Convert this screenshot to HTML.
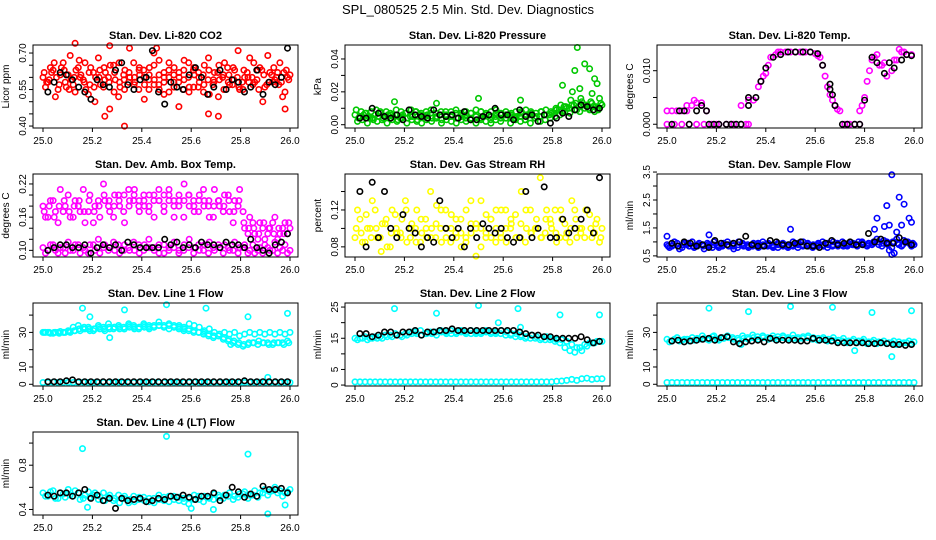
<!DOCTYPE html>
<html><head><meta charset="utf-8">
<style>
html,body{margin:0;padding:0;background:#fff;}
svg{display:block;font-family:"Liberation Sans",Arial,sans-serif;}
</style></head>
<body>
<svg id="chart" width="936" height="540" viewBox="0 0 936 540">
<text x="468" y="14" text-anchor="middle" font-size="13">SPL_080525  2.5 Min. Std. Dev. Diagnostics</text>
</svg>
<script>
// ---------- data ----------
const co2Red1=[0.60,0.58,0.63,0.55,0.66,0.61,0.57,0.64,0.59,0.53,0.62,0.68,0.56,0.60,0.65,0.52,0.61,0.58,0.66,0.55,0.63,0.59,0.70,0.57,0.62,0.54,0.64,0.60,0.67,0.56,0.61,0.58,0.65,0.53,0.62,0.59,0.66,0.57,0.63,0.55,0.60,0.68,0.58,0.64,0.56,0.62,0.59,0.66,0.54,0.61];
const co2Red2=[0.56,0.64,0.52,0.61,0.58,0.69,0.54,0.60,0.66,0.57,0.50,0.63,0.59,0.47,0.62,0.58,0.55,0.72,0.60,0.64,0.51,0.61,0.57,0.67,0.53,0.60,0.58,0.48,0.63,0.66,0.56,0.62,0.54,0.68,0.59,0.52,0.61,0.58,0.64,0.71,0.55,0.60,0.57,0.63,0.50,0.69,0.58,0.62,0.52,0.60];
const co2Red3=[0.62,0.59,0.66,0.57,0.63,0.55,0.60,0.67,0.58,0.62,0.56,0.60,0.64,0.58,0.54,0.66,0.59,0.62,0.57,0.63,0.60,0.55,0.65,0.61,0.58,0.66,0.56,0.62,0.59,0.54,0.64,0.60,0.57,0.63,0.58,0.65,0.55,0.61,0.59,0.56,0.63,0.58,0.66,0.55,0.61,0.58,0.64,0.57,0.62,0.59];
const co2Red4=[0.58,0.62,0.60,0.64,0.56,0.59,0.63,0.61,0.55,0.64,0.60,0.57,0.62,0.65,0.59,0.56,0.63,0.60,0.58,0.61,0.57,0.64,0.59,0.55,0.60,0.63,0.61,0.58,0.55,0.60,0.63,0.56,0.61,0.59,0.57,0.62,0.60,0.64,0.57,0.60,0.58,0.62,0.60,0.59,0.63,0.57,0.61,0.60,0.58,0.63];
const co2OutX=[25.13,25.27,25.33,25.25,25.46,25.67,25.71,25.98];
const co2OutY=[0.74,0.73,0.40,0.44,0.72,0.45,0.44,0.47];
const co2Black=[0.54,0.58,0.62,0.61,0.59,0.56,0.54,0.51,0.59,0.57,0.56,0.63,0.66,0.57,0.55,0.59,0.60,0.71,0.54,0.49,0.58,0.56,0.55,0.61,0.64,0.60,0.53,0.56,0.63,0.55,0.59,0.58,0.54,0.56,0.63,0.53,0.58,0.57,0.60,0.72];

const presG1=[0.006,0.005,0.007,0.004,0.006,0.008,0.005,0.007,0.006,0.004,0.007,0.005,0.008,0.006,0.005,0.007,0.004,0.006,0.008,0.005,0.007,0.006,0.004,0.007,0.005,0.008,0.006,0.005,0.007,0.006,0.004,0.007,0.005,0.008,0.006,0.007,0.005,0.008,0.006,0.007,0.009,0.008,0.010,0.012,0.009,0.014,0.011,0.013,0.010,0.012];
const presG2=[0.002,0.003,0.001,0.004,0.002,0.003,0.001,0.003,0.002,0.004,0.001,0.003,0.002,0.001,0.003,0.002,0.004,0.001,0.003,0.002,0.001,0.003,0.002,0.004,0.001,0.003,0.002,0.001,0.003,0.002,0.004,0.001,0.003,0.002,0.003,0.001,0.004,0.002,0.003,0.004,0.005,0.006,0.008,0.007,0.009,0.008,0.010,0.009,0.008,0.010];
const presG3=[0.009,0.008,0.007,0.008,0.009,0.007,0.008,0.006,0.009,0.008,0.007,0.009,0.008,0.007,0.008,0.009,0.007,0.008,0.006,0.008,0.009,0.007,0.008,0.007,0.009,0.008,0.007,0.008,0.009,0.007,0.008,0.006,0.008,0.007,0.009,0.008,0.007,0.008,0.009,0.008,0.010,0.012,0.011,0.015,0.013,0.016,0.012,0.014,0.011,0.013];
const presG4=[0.004,0.006,0.005,0.003,0.005,0.004,0.006,0.005,0.003,0.006,0.004,0.005,0.003,0.005,0.006,0.004,0.005,0.003,0.005,0.006,0.004,0.005,0.006,0.003,0.005,0.004,0.006,0.003,0.005,0.004,0.006,0.005,0.004,0.005,0.003,0.006,0.004,0.005,0.006,0.006,0.007,0.009,0.011,0.010,0.012,0.011,0.012,0.010,0.011,0.009];
const presOutX=[25.90,25.93,25.89,25.95,25.84,25.91,25.97,25.98,25.88,25.99,25.50,25.67,25.16,25.33,25.96];
const presOutY=[0.047,0.037,0.033,0.034,0.024,0.022,0.028,0.025,0.020,0.016,0.016,0.015,0.014,0.013,0.019];
const presBlack=[0.004,0.004,0.010,0.007,0.005,0.004,0.006,0.003,0.009,0.006,0.005,0.004,0.009,0.006,0.005,0.006,0.004,0.008,0.003,0.003,0.005,0.006,0.010,0.006,0.006,0.003,0.009,0.005,0.006,0.002,0.006,0.001,0.004,0.007,0.005,0.009,0.012,0.011,0.009,0.010];

const tempX=[25.0,25.02,25.04,25.06,25.08,25.10,25.12,25.14,25.16,25.0,25.03,25.06,25.09,25.12,25.15,25.08,25.11,25.14,25.18,25.21,25.24,25.27,25.30,25.33,25.30,25.33,25.35,25.37,25.38,25.39,25.40,25.41,25.42,25.44,25.46,25.48,25.50,25.52,25.54,25.56,25.58,25.60,25.62,25.63,25.64,25.65,25.66,25.67,25.68,25.69,25.70,25.72,25.74,25.76,25.78,25.78,25.79,25.80,25.81,25.82,25.83,25.85,25.87,25.89,25.91,25.93,25.95,25.97,25.99,25.84,25.88,25.92,25.96,25.94,25.86,25.20,25.26,25.32,25.45,25.55,25.61,25.73];
const tempY=[0.0025,0.0025,0.0025,0.0025,0.0025,0.0035,0.004,0.0035,0.0025,0,0,0,0,0,0,0.0035,0.0045,0.004,0,0,0,0,0,0,0.0035,0.0045,0.0045,0.007,0.008,0.009,0.0095,0.011,0.0125,0.013,0.0135,0.0135,0.0135,0.0135,0.0135,0.0135,0.0135,0.0132,0.0125,0.011,0.009,0.007,0.0055,0.0045,0.0035,0.0028,0.0025,0,0,0,0,0.0025,0.0035,0.005,0.008,0.010,0.012,0.013,0.011,0.009,0.010,0.012,0.0135,0.013,0.013,0.0125,0.0115,0.012,0.0135,0.014,0.011,0,0,0,0.0135,0.0135,0.0128,0];
const tempBX=[25.02,25.05,25.07,25.09,25.12,25.14,25.16,25.17,25.19,25.21,25.24,25.26,25.28,25.30,25.33,25.33,25.36,25.38,25.40,25.43,25.46,25.49,25.52,25.55,25.58,25.61,25.63,25.66,25.66,25.67,25.68,25.71,25.73,25.76,25.78,25.80,25.83,25.85,25.88,25.90,25.92,25.95,25.97,25.99];
const tempBY=[0,0.0025,0.0025,0,0.0025,0.0035,0.0025,0,0,0,0,0,0,0,0.005,0.0035,0.005,0.008,0.0105,0.0125,0.013,0.0135,0.0135,0.0135,0.0135,0.0132,0.011,0.0075,0.0065,0.0055,0.0035,0,0,0,0,0.0045,0.0125,0.0115,0.0095,0.0115,0.0105,0.012,0.013,0.0128];

const ambUp1=[0.18,0.16,0.19,0.15,0.17,0.20,0.16,0.18,0.21,0.17,0.15,0.19,0.22,0.18,0.16,0.20,0.17,0.21,0.19,0.18,0.20,0.17,0.19,0.21,0.18,0.20,0.16,0.19,0.22,0.18,0.17,0.20,0.19,0.16,0.21,0.18,0.20,0.17,0.19,0.21,0.14,0.16,0.13,0.15,0.12,0.14,0.16,0.13,0.15,0.14];
const ambUp2=[0.16,0.19,0.17,0.21,0.18,0.16,0.19,0.17,0.15,0.20,0.18,0.16,0.19,0.17,0.20,0.18,0.15,0.19,0.21,0.17,0.18,0.20,0.16,0.19,0.17,0.21,0.19,0.18,0.16,0.20,0.19,0.17,0.21,0.18,0.16,0.19,0.17,0.20,0.15,0.18,0.17,0.13,0.15,0.12,0.14,0.13,0.15,0.12,0.14,0.13];
const ambUp3=[0.17,0.18,0.16,0.18,0.19,0.17,0.18,0.19,0.17,0.19,0.17,0.18,0.20,0.19,0.18,0.19,0.20,0.18,0.20,0.19,0.19,0.18,0.20,0.19,0.20,0.19,0.18,0.20,0.19,0.20,0.18,0.19,0.18,0.19,0.18,0.19,0.18,0.19,0.17,0.19,0.15,0.14,0.14,0.13,0.15,0.14,0.13,0.14,0.13,0.15];
const ambLow1=[0.105,0.10,0.11,0.095,0.105,0.115,0.10,0.11,0.105,0.095,0.11,0.12,0.105,0.10,0.115,0.11,0.10,0.105,0.115,0.11,0.10,0.12,0.105,0.11,0.095,0.105,0.115,0.10,0.11,0.12,0.105,0.10,0.11,0.115,0.10,0.105,0.11,0.10,0.115,0.105,0.11,0.10,0.095,0.105,0.11,0.10,0.115,0.105,0.11,0.10];
const ambLow2=[0.095,0.11,0.10,0.105,0.095,0.10,0.11,0.095,0.10,0.11,0.10,0.095,0.11,0.105,0.10,0.095,0.11,0.10,0.10,0.095,0.11,0.105,0.10,0.095,0.11,0.10,0.105,0.095,0.10,0.105,0.095,0.11,0.10,0.095,0.105,0.11,0.095,0.105,0.10,0.095,0.105,0.095,0.11,0.10,0.095,0.105,0.10,0.095,0.10,0.095];
const ambBlack=[0.10,0.105,0.11,0.11,0.105,0.105,0.11,0.095,0.105,0.11,0.105,0.11,0.10,0.115,0.11,0.105,0.105,0.105,0.105,0.12,0.11,0.115,0.105,0.11,0.105,0.115,0.11,0.11,0.105,0.115,0.11,0.11,0.105,0.12,0.105,0.10,0.095,0.11,0.115,0.13];

const rhY1=[0.09,0.11,0.085,0.10,0.12,0.09,0.105,0.08,0.115,0.095,0.13,0.09,0.10,0.085,0.11,0.14,0.09,0.10,0.12,0.085,0.095,0.11,0.09,0.13,0.10,0.08,0.115,0.09,0.10,0.12,0.085,0.105,0.09,0.14,0.10,0.095,0.11,0.09,0.12,0.10,0.085,0.11,0.095,0.13,0.09,0.10,0.12,0.09,0.11,0.10];
const rhY2=[0.12,0.085,0.10,0.13,0.09,0.105,0.08,0.12,0.095,0.11,0.085,0.105,0.12,0.095,0.09,0.10,0.125,0.085,0.10,0.115,0.09,0.08,0.12,0.095,0.105,0.13,0.09,0.11,0.085,0.095,0.12,0.10,0.115,0.09,0.085,0.12,0.10,0.155,0.095,0.11,0.12,0.09,0.105,0.085,0.12,0.10,0.09,0.115,0.095,0.085];
const rhY3=[0.10,0.095,0.115,0.09,0.10,0.075,0.11,0.095,0.10,0.09,0.12,0.10,0.085,0.11,0.10,0.09,0.105,0.12,0.09,0.10,0.11,0.095,0.085,0.105,0.07,0.10,0.095,0.11,0.12,0.09,0.10,0.11,0.09,0.105,0.12,0.095,0.10,0.09,0.11,0.105,0.095,0.12,0.09,0.10,0.11,0.095,0.12,0.10,0.105,0.09];
const rhBlack=[0.14,0.08,0.15,0.09,0.14,0.10,0.09,0.115,0.10,0.095,0.08,0.09,0.085,0.13,0.10,0.09,0.10,0.08,0.10,0.09,0.105,0.10,0.095,0.10,0.09,0.085,0.09,0.14,0.09,0.10,0.145,0.09,0.09,0.11,0.095,0.10,0.11,0.12,0.095,0.155];

const sfB1=[0.9,0.85,0.95,0.8,0.9,1.0,0.85,0.9,0.95,0.8,0.9,0.85,1.0,0.9,0.8,0.95,0.9,0.85,0.9,1.0,0.85,0.9,0.8,0.95,0.9,0.85,0.9,1.0,0.85,0.9,0.95,0.85,0.9,1.0,0.9,0.85,0.95,0.9,1.0,0.9,0.95,1.0,0.9,1.05,0.95,1.0,0.9,1.05,0.95,0.9];
const sfB2=[0.8,1.0,0.75,0.95,0.85,0.8,0.95,0.75,0.85,1.0,0.8,0.95,0.85,0.75,1.0,0.85,0.8,0.95,0.8,0.85,0.95,0.8,0.9,0.85,0.8,1.0,0.8,0.85,0.95,0.8,0.85,1.0,0.8,0.85,0.95,1.0,0.85,0.9,0.85,1.0,0.85,0.9,1.1,0.85,1.0,0.8,1.1,0.85,1.0,0.85];
const sfB3=[0.85,0.9,0.85,0.9,0.95,0.85,0.9,0.85,0.9,0.9,0.85,0.9,0.9,0.85,0.9,0.9,0.85,0.9,0.95,0.9,0.9,0.85,0.95,0.9,0.85,0.9,0.95,0.9,0.9,0.85,0.9,0.9,0.95,0.9,0.85,0.9,0.9,0.95,0.9,0.95,0.9,0.95,1.0,0.95,0.9,1.0,0.95,0.9,1.0,0.95];
const sfOutX=[25.0,25.17,25.50,25.84,25.85,25.88,25.89,25.90,25.91,25.92,25.93,25.94,25.95,25.96,25.98,25.99,25.91,25.90];
const sfOutY=[1.2,1.25,1.45,1.45,1.85,1.55,2.3,1.6,3.4,0.6,1.35,2.6,1.6,2.35,1.85,1.7,0.55,0.7];
const sfBlack=[0.95,0.85,1.0,0.95,0.85,0.9,0.8,1.05,0.95,0.9,0.95,1.0,1.2,0.9,0.85,0.85,1.05,1.0,0.9,0.9,0.95,1.0,0.85,0.85,0.8,0.95,1.05,0.9,0.95,1.0,0.9,0.9,1.3,1.0,1.1,0.95,0.95,1.15,1.0,0.9];

const l1Up1=[30,30,29.5,30,30,31,33,34,32,33,31,34,33,35,32,34,33,35,34,32,35,34,33,36,34,35,33,34,32,35,34,33,31,32,30,29,30,29,30,28,29,30,29,30,29,30,29,30,29,30];
const l1Up2=[30,29.5,30,30.5,30,30,31,31,32,31,32,32,31,32,33,32,32,33,32,33,33,32,33,34,33,32,33,32,31,31,30,30,29,28,27,28,26,25,24,23,22,23,24,23,24,24,23,24,24,25];
const l1Up3=[30,30,30,29.5,30,30.5,31,32,33,32,32,33,32,33,33,33,32,34,33,33,34,33,34,34,33,34,34,33,33,32,31,30,30,29,28,28,27,26,25,24,23,24,24,25,24,23,24,24,23,24];
const l1Low=[1,1,1.2,1,1,1.1,1,1,1.2,1,1,1,1.1,1,1,1.2,1,1,1,1.1,1,1,1.2,1,1,1,1.1,1,1,1,1.2,1,1,1,1.1,1,1,1.2,1,1,1,1.1,1,1.2,1,1,1.1,1,1,1];
const l1OutX=[25.16,25.19,25.27,25.33,25.50,25.66,25.76,25.83,25.99,25.91];
const l1OutY=[44,39,27,43,46,44,23,39,41,4];
const l1Black=[1.5,1.5,1.5,2,2.5,1.5,1.5,1.5,1.5,1.5,1.5,1.5,1.5,1.5,1.5,1.5,1.5,1.5,1.5,1.5,1.5,1.5,1.5,1.5,1.5,1.5,1.5,1.5,1.5,1.5,1.5,1.5,2,1.5,1.5,1.5,1.5,1.5,1.5,1.5];

const l2Up=[15,15,15.5,15,15.5,15.5,16,16,16.5,16,16.5,17,17,17.5,16.5,17,17,17.5,17,17.5,17,17.5,17,17.5,17,17,17.5,17,17,17.5,17,16.5,16.5,16,15.5,16,15.5,15,15.5,15,14.5,14.5,14,13,12,11,12.5,13.5,14,14];
const l2Up2=[14.5,15,14.5,15,15,15,15.5,15.5,16,15.5,16,16.5,16.5,16,16.5,16.5,16,17,16.5,16.5,16.5,17,16.5,16.5,16.5,16.5,17,16.5,16.5,16.5,16,16,15.5,15.5,15,15,15,14.5,14.5,14.5,14,13.5,12,11,10.5,12,13,13.5,13.5,14];
const l2Low=[1,1,1,1,1,1,1,1,1,1,1,1,1,1,1,1,1,1,1,1,1,1,1,1,1,1,1,1,1,1,1,1,1,1,1,1,1,1,1,1,1.2,1.3,1.5,1.8,1.5,2,2.2,1.8,2,2];
const l2OutX=[25.16,25.33,25.50,25.58,25.66,25.67,25.83,25.99];
const l2OutY=[24.5,23,25.5,20,24.5,18.5,22.5,22.5];
const l2Black=[16.5,16.5,15.5,16,17,17,16,17,17,17.5,16,17,17,17.5,17.5,18,17.5,17.5,17.5,17.5,17.5,17.5,17.5,17.5,17.5,17.5,17,16.5,16,16,15.5,15.5,15,15,15,15,15.5,14.5,13.5,14];

const l3Up=[26,25,27,25.5,26,27,26.5,28,26,27.5,26,27,28,27,26.5,28,27,28.5,27.5,28,27,28,27.5,28,27,28.5,27,27.5,28,27,26.5,27,26,27,25.5,26.5,25,26,25,26,24.5,25.5,24.5,25,24,25,24.5,24,25,24.5];
const l3Up2=[24.5,26,25,26,25,25.5,26,26.5,25.5,26,25.5,26.5,27,26,25.5,26.5,26,27,26,27,26,26.5,26,27,26,26.5,26,26.5,27,26,25.5,26,25,25.5,24.5,25,24,25,24,25,23.5,24.5,23.5,24,23.5,24,23,23.5,24,23.5];
const l3Low=[1,1,1,1,1,1,1,1,1,1,1,1,1,1,1,1,1,1,1,1,1,1,1,1,1,1,1,1,1,1,1,1,1,1,1,1,1,1,1,1,1,1,1,1,1,1,1,1,1,1];
const l3OutX=[25.17,25.33,25.50,25.67,25.76,25.83,25.91,25.99,25.30,25.19];
const l3OutY=[44,42,45,44.5,19.5,41.5,16,42.5,23,28];
const l3Black=[25,25.5,24.5,25,25.5,26,26.5,25.5,27,27.5,24.5,23.5,24.5,25,25.5,24.5,26.5,25.5,25.5,25.5,25.5,25,25,26.5,25.5,25.5,25,24,24,24,24,24,23.5,23.5,24,23.5,23,23,22.5,23];

const l4C1=[0.55,0.52,0.57,0.50,0.54,0.58,0.52,0.55,0.50,0.56,0.53,0.49,0.55,0.51,0.48,0.53,0.50,0.46,0.52,0.49,0.51,0.47,0.50,0.53,0.48,0.52,0.49,0.51,0.47,0.50,0.53,0.49,0.52,0.50,0.54,0.51,0.53,0.55,0.52,0.54,0.56,0.53,0.57,0.55,0.58,0.56,0.60,0.57,0.55,0.58];
const l4C2=[0.52,0.56,0.50,0.55,0.51,0.53,0.57,0.49,0.53,0.51,0.55,0.52,0.48,0.53,0.50,0.46,0.52,0.49,0.47,0.51,0.48,0.50,0.46,0.49,0.51,0.47,0.52,0.48,0.50,0.45,0.49,0.52,0.47,0.51,0.49,0.53,0.50,0.52,0.49,0.51,0.54,0.50,0.53,0.51,0.55,0.53,0.57,0.55,0.52,0.56];
const l4OutX=[25.16,25.50,25.83,25.91,25.18,25.60,25.69,25.98];
const l4OutY=[0.95,1.06,0.90,0.36,0.42,0.41,0.40,0.44];
const l4Black=[0.53,0.52,0.55,0.55,0.52,0.55,0.58,0.50,0.53,0.48,0.50,0.41,0.50,0.48,0.49,0.50,0.47,0.48,0.50,0.49,0.52,0.51,0.53,0.51,0.49,0.52,0.52,0.55,0.48,0.53,0.60,0.56,0.51,0.54,0.52,0.61,0.58,0.58,0.59,0.55];

// ---------- layout ----------
const svg=document.getElementById('chart');
const NS='http://www.w3.org/2000/svg';
const LEFTS=[33,345,657], TOPS=[45,174,303,432], W=265, H=83;
function mk(tag,attrs,parent){const e=document.createElementNS(NS,tag);for(const k in attrs)e.setAttribute(k,attrs[k]);(parent||svg).appendChild(e);return e;}
function even(arr,a,b){return arr.map((v,i)=>a+(b-a)*i/(arr.length-1));}

function panel(p){
  const L=LEFTS[p.col],T=TOPS[p.row];
  const g=mk('g',{});
  
  
  const xs=v=>L+10+(v-25)*247;
  const ys=v=>T+H-(v-p.ymin)/(p.ymax-p.ymin)*H;
  const t=mk('text',{x:L+W/2,y:T-6,'text-anchor':'middle','font-size':'11','font-weight':'bold'},g);
  t.textContent=p.title;
  
  
  p.series.forEach(s=>{
    const sg=mk('g',{fill:'none',stroke:s.color,'stroke-width':'1.6'},g);
    
    
    const X=s.x||even(s.y,s.a!==undefined?s.a:25.0,s.b!==undefined?s.b:26.0);
    s.y.forEach((v,i)=>{
      const c=mk('circle',{cx:xs(X[i]).toFixed(1),cy:ys(v).toFixed(1),r:'2.7'},sg);
      
      
    });
  });
  const box=mk('rect',{x:L,y:T,width:W,height:H,fill:'none',stroke:'#000','stroke-width':'1'},g);
  
  
  const xa=mk('g',{stroke:'#000','stroke-width':'1'},g);
  
  
  const xt=[25.0,25.2,25.4,25.6,25.8,26.0];
  xt.forEach(v=>{
    mk('line',{x1:xs(v),x2:xs(v),y1:T+H,y2:T+H+4},xa);
    const lb=mk('text',{x:xs(v),y:T+H+16,'text-anchor':'middle','font-size':'10',stroke:'none',fill:'#000'},xa);
    lb.textContent=v.toFixed(1);
  });
  const ya=mk('g',{stroke:'#000','stroke-width':'1'},g);
  
  
  p.ticks.forEach((v,i)=>{
    const y=ys(v);
    mk('line',{x1:L-4,x2:L,y1:y,y2:y},ya);
    if(p.labels[i]){
      const lb=mk('text',{x:L-7,y:y,'text-anchor':'middle','font-size':'10',stroke:'none',fill:'#000',transform:`rotate(-90 ${L-7} ${y})`},ya);
      lb.textContent=p.labels[i];
    }
  });
  const yl=mk('text',{x:L-24,y:T+H/2,'text-anchor':'middle','font-size':'10',transform:`rotate(-90 ${L-24} ${T+H/2})`},g);
  yl.textContent=p.ylab;
  
  
}

const BK='#000', BA=25.02, BB=25.99;
panel({name:'co2',col:0,row:0,title:'Stan. Dev. Li-820 CO2',ylab:'Licor ppm',ymin:0.392,ymax:0.733,
  ticks:[0.40,0.45,0.50,0.55,0.60,0.65,0.70],labels:['0.40','','','0.55','','','0.70'],
  series:[{id:'red1',y:co2Red1,color:'#f00'},{id:'red2',y:co2Red2,color:'#f00',a:25.01,b:25.99},{id:'red3',y:co2Red3,color:'#f00',a:25.005,b:25.995},{id:'red4',y:co2Red4,color:'#f00',a:25.015,b:25.985},{id:'red-out',x:co2OutX,y:co2OutY,color:'#f00'},{id:'black',y:co2Black,color:BK,a:BA,b:BB}]});
panel({name:'pressure',col:1,row:0,title:'Stan. Dev. Li-820 Pressure',ylab:'kPa',ymin:-0.002,ymax:0.0485,
  ticks:[0,0.01,0.02,0.03,0.04],labels:['0.00','','0.02','','0.04'],
  series:[{id:'green1',y:presG1,color:'#00c800'},{id:'green2',y:presG2,color:'#00c800',a:25.01,b:25.99},{id:'green3',y:presG3,color:'#00c800',a:25.005,b:25.995},{id:'green4',y:presG4,color:'#00c800',a:25.015,b:25.985},{id:'green-out',x:presOutX,y:presOutY,color:'#00c800'},{id:'black',y:presBlack,color:BK,a:BA,b:BB}]});
panel({name:'temp',col:2,row:0,title:'Stan. Dev. Li-820 Temp.',ylab:'degrees C',ymin:-0.0007,ymax:0.0148,
  ticks:[0,0.005,0.010],labels:['0.000','','0.010'],
  series:[{id:'magenta',x:tempX,y:tempY,color:'#f0f'},{id:'black',x:tempBX,y:tempBY,color:BK}]});
panel({name:'amb-temp',col:0,row:1,title:'Stan. Dev. Amb. Box Temp.',ylab:'degrees C',ymin:0.088,ymax:0.238,
  ticks:[0.10,0.12,0.14,0.16,0.18,0.20,0.22],labels:['0.10','','','0.16','','','0.22'],
  series:[{id:'upper1',y:ambUp1,color:'#f0f'},{id:'upper2',y:ambUp2,color:'#f0f',a:25.01,b:25.99},{id:'upper3',y:ambUp3,color:'#f0f',a:25.005,b:25.995},{id:'lower1',y:ambLow1,color:'#f0f'},{id:'lower2',y:ambLow2,color:'#f0f',a:25.01,b:25.99},{id:'black',y:ambBlack,color:BK,a:BA,b:BB}]});
panel({name:'rh',col:1,row:1,title:'Stan. Dev. Gas Stream RH',ylab:'percent',ymin:0.069,ymax:0.159,
  ticks:[0.08,0.10,0.12,0.14],labels:['0.08','','0.12',''],
  series:[{id:'yellow1',y:rhY1,color:'#ff0'},{id:'yellow2',y:rhY2,color:'#ff0',a:25.01,b:25.99},{id:'yellow3',y:rhY3,color:'#ff0',a:25.005,b:25.995},{id:'black',y:rhBlack,color:BK,a:BA,b:BB}]});
panel({name:'sample-flow',col:2,row:1,title:'Stan. Dev. Sample Flow',ylab:'ml/min',ymin:0.46,ymax:3.43,
  ticks:[0.5,1.0,1.5,2.0,2.5,3.0,3.5],labels:['0.5','','1.5','','2.5','','3.5'],
  series:[{id:'blue1',y:sfB1,color:'#00f'},{id:'blue2',y:sfB2,color:'#00f',a:25.01,b:25.99},{id:'blue3',y:sfB3,color:'#00f',a:25.005,b:25.995},{id:'blue-out',x:sfOutX,y:sfOutY,color:'#00f'},{id:'black',y:sfBlack,color:BK,a:BA,b:BB}]});
panel({name:'line1',col:0,row:2,title:'Stan. Dev. Line 1 Flow',ylab:'ml/min',ymin:-1,ymax:47,
  ticks:[0,10,20,30,40],labels:['0','10','','30',''],
  series:[{id:'cyan-up1',y:l1Up1,color:'#0ff'},{id:'cyan-up2',y:l1Up2,color:'#0ff',a:25.01,b:25.99},{id:'cyan-up3',y:l1Up3,color:'#0ff',a:25.005,b:25.995},{id:'cyan-low',y:l1Low,color:'#0ff'},{id:'cyan-out',x:l1OutX,y:l1OutY,color:'#0ff'},{id:'black',y:l1Black,color:BK,a:BA,b:BB}]});
panel({name:'line2',col:1,row:2,title:'Stan. Dev. Line 2 Flow',ylab:'ml/min',ymin:-0.3,ymax:26.3,
  ticks:[0,5,10,15,20,25],labels:['0','5','','15','','25'],
  series:[{id:'cyan-up1',y:l2Up,color:'#0ff'},{id:'cyan-up2',y:l2Up2,color:'#0ff',a:25.01,b:25.99},{id:'cyan-low',y:l2Low,color:'#0ff'},{id:'cyan-out',x:l2OutX,y:l2OutY,color:'#0ff'},{id:'black',y:l2Black,color:BK,a:BA,b:BB}]});
panel({name:'line3',col:2,row:2,title:'Stan. Dev. Line 3 Flow',ylab:'ml/min',ymin:-1,ymax:47,
  ticks:[0,10,20,30,40],labels:['0','10','','30',''],
  series:[{id:'cyan-up1',y:l3Up,color:'#0ff'},{id:'cyan-up2',y:l3Up2,color:'#0ff',a:25.01,b:25.99},{id:'cyan-low',y:l3Low,color:'#0ff'},{id:'cyan-out',x:l3OutX,y:l3OutY,color:'#0ff'},{id:'black',y:l3Black,color:BK,a:BA,b:BB}]});
panel({name:'line4',col:0,row:3,title:'Stan. Dev. Line 4 (LT) Flow',ylab:'ml/min',ymin:0.35,ymax:1.10,
  ticks:[0.4,0.6,0.8,1.0],labels:['0.4','','0.8',''],
  series:[{id:'cyan1',y:l4C1,color:'#0ff'},{id:'cyan2',y:l4C2,color:'#0ff',a:25.01,b:25.99},{id:'cyan-out',x:l4OutX,y:l4OutY,color:'#0ff'},{id:'black',y:l4Black,color:BK,a:BA,b:BB}]});
</script>
</body></html>
